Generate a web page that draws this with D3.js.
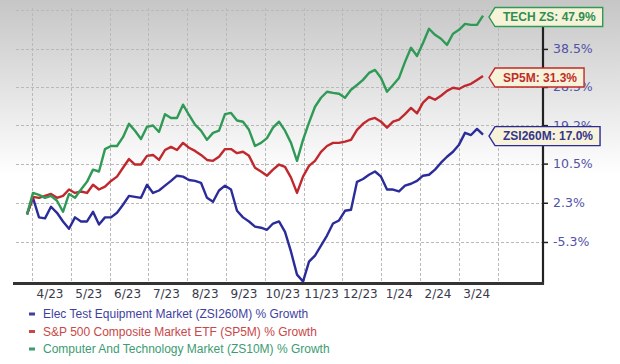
<!DOCTYPE html>
<html><head><meta charset="utf-8">
<script src="https://cdn.jsdelivr.net/npm/d3@7"></script>
<style>html,body{margin:0;padding:0;background:#fff;}svg{display:block;}</style>
</head><body>
<svg id="chart" width="620" height="364"></svg>
<script>
// ---- data ----
const monthLabels = ["4/23","5/23","6/23","7/23","8/23","9/23","10/23","11/23","12/23","1/24","2/24","3/24"];
const yTickValues = [-5.3, 2.3, 10.5, 19.2, 28.5, 38.5];
const yGridExtra = [49.4];
const seriesNames = ["Elec Test Equipment Market (ZSI260M) % Growth","S&P 500 Composite Market ETF (SP5M) % Growth","Computer And Technology Market (ZS10M) % Growth"];
const seriesTags = ["ZSI260M: 17.0%","SP5M: 31.3%","TECH ZS: 47.9%"];
const zsi260m = [0.0,3.3,-0.6,-0.8,1.5,0.3,-1.4,-2.8,-0.6,-1.4,-1.4,0.5,-2.0,-0.6,-0.6,0.3,1.9,3.7,3.5,3.3,6.0,4.3,4.8,5.8,6.8,7.9,7.7,7.0,6.8,6.4,3.3,2.5,4.8,5.8,5.0,0.7,-0.6,-1.4,-2.4,-2.6,-3.0,-1.8,-1.4,-3.4,-7.1,-11.2,-12.4,-8.9,-7.8,-6.0,-4.1,-1.8,-1.2,0.7,0.9,6.6,7.2,8.1,8.8,7.7,5.0,5.0,4.6,5.8,6.2,6.8,7.9,8.1,9.2,10.7,12.0,13.1,14.7,17.4,16.9,18.3,17.0];
const sp5m = [0.0,3.5,3.3,3.7,4.1,3.3,3.7,5.0,4.3,4.6,4.3,6.0,5.0,5.6,6.8,7.7,9.6,11.5,10.3,10.3,12.2,12.4,11.3,13.5,14.2,13.5,15.1,14.0,13.3,12.4,11.3,11.1,12.0,13.7,13.7,12.8,13.1,12.2,9.6,8.8,7.9,9.2,10.3,9.8,7.5,4.3,7.7,10.0,11.1,13.1,14.4,15.1,15.1,15.4,15.8,18.1,19.5,20.5,20.9,20.0,18.6,20.0,20.5,21.8,23.3,22.0,24.6,26.0,25.3,26.3,27.5,28.3,28.0,28.8,29.3,30.3,31.3];
const zs10m = [0.0,4.3,3.9,3.3,3.7,2.7,0.5,4.1,3.3,5.0,6.6,9.2,8.8,13.7,14.4,14.4,16.4,19.5,17.9,16.0,18.8,19.1,17.6,21.8,20.9,20.9,24.1,21.6,19.3,17.9,15.8,17.4,17.9,21.8,22.1,20.3,20.0,18.1,14.4,15.1,16.2,18.6,20.0,17.9,15.1,11.1,15.8,19.8,23.6,25.8,27.3,27.0,26.8,25.8,27.8,29.0,30.3,32.1,32.9,30.8,27.3,29.0,30.8,35.0,38.8,36.6,40.1,44.1,42.4,41.3,39.6,42.7,43.8,45.5,45.2,45.2,47.9];

const lineColors = ["#2b2b9a","#c0282d","#2f9a55"];
const tagColors = ["#35358c","#c02c2c","#2f8f4e"];
const legendColors = ["#3f3fa0","#c84848","#3c9c72"];

// ---- layout ----
const svg = d3.select("#chart");
const plotLeft = 16, plotRight = 543, plotTop = 8, plotBottom = 283;

const defs = svg.append("defs");
const grad = defs.append("linearGradient").attr("id","bg").attr("gradientUnits","userSpaceOnUse")
  .attr("x1",0).attr("y1",0).attr("x2",0).attr("y2",175);
grad.append("stop").attr("offset",0).attr("stop-color","#c6c6c6");
grad.append("stop").attr("offset",1).attr("stop-color","#ffffff");
svg.append("rect").attr("width",620).attr("height",364).attr("fill","url(#bg)");

// scales
const y = d3.scaleLog().domain([0.8735, 1.525]).range([plotBottom, 0]);
const yp = p => y(1 + p/100);
const xM = d3.scaleLinear().domain([0, 12]).range([32, 497.6]);
const n = zs10m.length;
const xi = d3.scaleLinear().domain([0, n-1]).range([xM(-0.129), xM(11.624)]);

// gridlines
const grid = svg.append("g").attr("stroke","#b9b9b9").attr("stroke-width",1).attr("stroke-dasharray","3,2").attr("fill","none");
grid.selectAll("line.h").data(yTickValues.concat(yGridExtra)).join("line").attr("class","h")
  .attr("x1",plotLeft).attr("x2",plotRight).attr("y1",d=>Math.round(yp(d))+0.5).attr("y2",d=>Math.round(yp(d))+0.5);
grid.selectAll("line.v").data(d3.range(0,13)).join("line").attr("class","v")
  .attr("x1",d=>Math.round(xM(d))+0.5).attr("x2",d=>Math.round(xM(d))+0.5).attr("y1",plotTop).attr("y2",plotBottom);

// lines
const line = d3.line().x((d,i)=>xi(i)).y(d=>yp(d));
[zsi260m, sp5m, zs10m].forEach((s,k)=>{
  svg.append("path").datum(s).attr("d",line).attr("fill","none")
    .attr("stroke",lineColors[k]).attr("stroke-width",2.4).attr("stroke-linejoin","round");
});

// right axis
const yAxis = d3.axisRight(y).tickValues(yTickValues.map(v=>1+v/100)).tickSize(5).tickPadding(5)
  .tickFormat((d,i)=>yTickValues[i].toFixed(1)+"%");
const ga = svg.append("g").attr("transform",`translate(${plotRight},0)`).call(yAxis);
ga.select(".domain").remove();
ga.selectAll(".tick line").attr("stroke","#222").attr("stroke-width",1.5);
ga.selectAll(".tick text").attr("fill","#5252a6").attr("font-family","DejaVu Sans").attr("font-size",12.5);
svg.append("line").attr("x1",plotRight).attr("x2",plotRight).attr("y1",plotTop).attr("y2",plotBottom+1.5)
  .attr("stroke","#222").attr("stroke-width",2.2);

// bottom axis
svg.append("line").attr("x1",13).attr("x2",plotRight+1).attr("y1",plotBottom+0.5).attr("y2",plotBottom+0.5)
  .attr("stroke","#333").attr("stroke-width",3);
const xAxis = d3.axisBottom(xM).tickValues(d3.range(0,12).map(k=>k+0.45)).tickSize(0).tickPadding(0)
  .tickFormat((d,i)=>monthLabels[i]);
const gx = svg.append("g").attr("transform",`translate(0,${plotBottom+4})`).call(xAxis);
gx.select(".domain").remove();
gx.selectAll(".tick text").attr("fill","#3a3a4a").attr("font-family","DejaVu Sans").attr("font-size",12).attr("dy","0.95em");

// end tags
const ends = [zsi260m, sp5m, zs10m].map(s=>s[s.length-1]);
const tagLeft = 495;
ends.forEach((v,k)=>{
  const cy = yp(v) + 1.5;
  const g = svg.append("g");
  const t = g.append("text").attr("x",tagLeft+8).attr("y",cy).attr("dy","0.36em")
    .attr("font-family","Liberation Sans, Arial").attr("font-weight","bold").attr("font-size",12)
    .attr("fill",tagColors[k]).text(seriesTags[k]);
  const w = t.node().getComputedTextLength() + 15;
  const h = 9.5;
  const p = `M${tagLeft},${cy-h} L${tagLeft+w},${cy-h} L${tagLeft+w},${cy+h} L${tagLeft},${cy+h} L${tagLeft-6},${cy} Z`;
  g.insert("path","text").attr("d",p).attr("fill","#f7f3da").attr("stroke",lineColors[k]).attr("stroke-width",1.4);
});

// legend
const lg = svg.append("g");
seriesNames.forEach((name,k)=>{
  const ly = 314 + k*17.5;
  lg.append("rect").attr("x",29).attr("y",ly-1.5).attr("width",6).attr("height",3).attr("fill",legendColors[k]);
  lg.append("text").attr("x",43).attr("y",ly).attr("dy","0.35em").attr("font-family","Liberation Sans, Arial")
    .attr("font-size",12).attr("fill",legendColors[k]).text(name);
});
</script>
</body></html>
